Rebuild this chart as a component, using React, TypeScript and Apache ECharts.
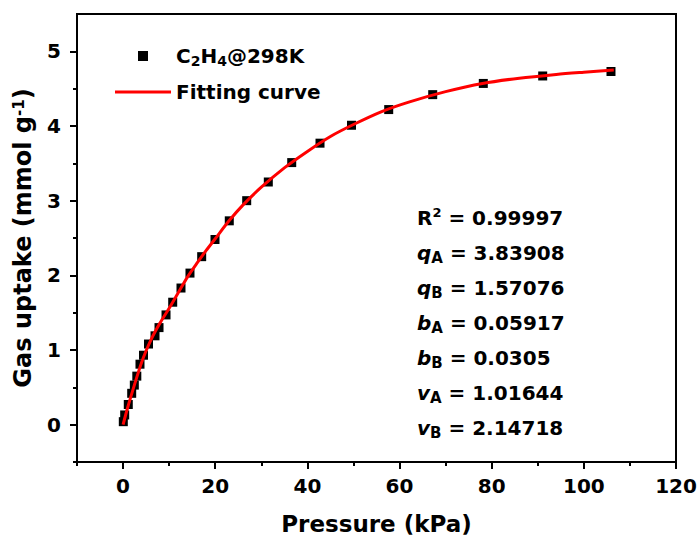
import React, { useEffect, useRef } from 'react';
import * as echarts from 'echarts';

// Measured isotherm points (kPa, mmol/g)
const pressure = [0.05, 0.35, 1.13, 1.87, 2.44, 2.98, 3.67, 4.43, 5.52, 6.93, 7.8, 9.32, 10.77, 12.57, 14.52, 17.06, 19.95, 23.05, 26.83, 31.52, 36.6, 42.74, 49.57, 57.65, 67.2, 78.18, 91.07, 105.89];
const uptake = [0.04, 0.13, 0.27, 0.42, 0.53, 0.65, 0.81, 0.93, 1.08, 1.19, 1.3, 1.47, 1.64, 1.83, 2.03, 2.25, 2.48, 2.73, 3.0, 3.25, 3.51, 3.77, 4.01, 4.22, 4.42, 4.57, 4.67, 4.73];

// Fitting curve
const fitPressure = [0, 1, 2, 3, 4, 5, 6, 7, 8, 10, 12, 14, 16, 18, 20, 23, 26, 30, 35, 40, 45, 50, 56, 62, 70, 78, 86, 94, 100, 106.5];
const fitUptake = [0, 0.23, 0.44, 0.64, 0.83, 0.99, 1.13, 1.25, 1.36, 1.56, 1.77, 1.98, 2.16, 2.33, 2.49, 2.73, 2.94, 3.18, 3.44, 3.66, 3.86, 4.02, 4.19, 4.32, 4.46, 4.57, 4.64, 4.69, 4.72, 4.75];

// Ticks
const xMajor = [0, 20, 40, 60, 80, 100, 120];
const xMinor = [-10, 10, 30, 50, 70, 90, 110];
const yMajor = [0, 1, 2, 3, 4, 5];
const yMinor = [-0.5, 0.5, 1.5, 2.5, 3.5, 4.5];

// Fit parameters annotation
const paramSymbols = ['R', 'q', 'q', 'b', 'b', 'v', 'v'];
const paramScripts = ['2', 'A', 'B', 'A', 'B', 'A', 'B'];
const paramValues = ['0.99997', '3.83908', '1.57076', '0.05917', '0.0305', '1.01644', '2.14718'];

const seriesNames = ['C2H4@298K', 'Fitting curve'];

const FONT = 'DejaVu Sans';

export default function App() {
  const ref = useRef<HTMLDivElement>(null);

  useEffect(() => {
    if (!ref.current) return;
    const chart = echarts.init(ref.current, undefined, { renderer: 'svg' });

    const base = { fontFamily: FONT, fontWeight: 'bold' as const, color: '#000' };
    const annRich = {
      n: { ...base, fontSize: 20, lineHeight: 24 },
      i: { ...base, fontSize: 20, lineHeight: 24, fontStyle: 'italic' as const },
      sub: { ...base, fontSize: 15, lineHeight: 10, verticalAlign: 'bottom' as const },
      sup: { ...base, fontSize: 13, lineHeight: 12, verticalAlign: 'top' as const },
    };

    const graphic = paramValues.map((v, i) => {
      const sym = paramSymbols[i];
      const script = paramScripts[i];
      const isSup = sym === 'R';
      const text = isSup
        ? `{n|${sym}}{sup|${script}}{n| = ${v}}`
        : `{i|${sym}}{sub|${script}}{n| = ${v}}`;
      return {
        type: 'text',
        x: 417,
        y: 218 + 35 * i,
        style: { text, rich: annRich, fill: '#000', verticalAlign: 'middle', align: 'left' },
      };
    });

    const option: any = {
      animation: false,
      backgroundColor: '#fff',
      grid: {
        left: 77, right: 22, top: 14, bottom: 88,
        containLabel: false,
        outerBoundsMode: 'none',
        show: true, borderColor: '#000', borderWidth: 2, backgroundColor: 'transparent',
      },
      legend: {
        orient: 'vertical',
        left: 115,
        top: 46,
        padding: 0,
        itemWidth: 56,
        itemHeight: 10,
        itemGap: 14,
        data: [
          { name: seriesNames[0], icon: 'path://M0,0L10,0L10,10L0,10Z' },
          { name: seriesNames[1], icon: 'path://M0,0L56,0L56,3L0,3Z' },
        ],
        formatter: (name: string) =>
          name === seriesNames[0] ? '{n|C}{sub|2}{n|H}{sub|4}{n|@298K}' : `{n|${name}}`,
        textStyle: {
          ...base,
          fontSize: 20,
          rich: {
            n: { ...base, fontSize: 20, lineHeight: 24 },
            sub: { ...base, fontSize: 14, lineHeight: 8, verticalAlign: 'bottom' },
          },
        },
      },
      xAxis: [
        {
          type: 'value', min: -10, max: 120, position: 'bottom',
          axisLine: { show: true, onZero: false, lineStyle: { color: '#000', width: 2 } },
          axisTick: { show: true, customValues: xMajor, length: 7, inside: false, lineStyle: { color: '#000', width: 2 } },
          axisLabel: { customValues: xMajor, ...base, fontSize: 20, margin: 14 },
          splitLine: { show: false },
          name: 'Pressure (kPa)',
          nameLocation: 'middle',
          nameGap: 62,
          nameMoveOverlap: false,
          nameTextStyle: { ...base, fontSize: 23, verticalAlign: 'middle' },
        },
        {
          type: 'value', min: -10, max: 120, position: 'bottom',
          axisLine: { show: false, onZero: false },
          axisTick: { show: true, customValues: xMinor, length: 4, inside: false, lineStyle: { color: '#000', width: 2 } },
          axisLabel: { show: false },
          splitLine: { show: false },
        },
      ],
      yAxis: [
        {
          type: 'value', min: -0.5, max: 5.5, position: 'left',
          axisLine: { show: true, onZero: false, lineStyle: { color: '#000', width: 2 } },
          axisTick: { show: true, customValues: yMajor, length: 7, inside: false, lineStyle: { color: '#000', width: 2 } },
          axisLabel: { customValues: yMajor, ...base, fontSize: 20, margin: 16 },
          splitLine: { show: false },
          name: 'Gas uptake (mmol g{sup|-1})',
          nameLocation: 'middle',
          nameGap: 42,
          nameTextStyle: {
            ...base,
            fontSize: 24,
            rich: {
              sup: { ...base, fontSize: 15, lineHeight: 12, verticalAlign: 'top' },
            },
          },
        },
        {
          type: 'value', min: -0.5, max: 5.5, position: 'left',
          axisLine: { show: false, onZero: false },
          axisTick: { show: true, customValues: yMinor, length: 4, inside: false, lineStyle: { color: '#000', width: 2 } },
          axisLabel: { show: false },
          splitLine: { show: false },
        },
      ],
      series: [
        {
          name: seriesNames[0],
          type: 'scatter',
          xAxisIndex: 0,
          yAxisIndex: 0,
          symbol: 'rect',
          symbolSize: 9,
          itemStyle: { color: '#000', opacity: 1 },
          data: pressure.map((p, i) => [p, uptake[i]]),
          z: 2,
        },
        {
          name: seriesNames[1],
          type: 'line',
          xAxisIndex: 0,
          yAxisIndex: 0,
          symbol: 'none',
          showSymbol: false,
          smooth: 0.3,
          lineStyle: { color: '#ff0000', width: 3 },
          itemStyle: { color: '#ff0000' },
          data: fitPressure.map((p, i) => [p, fitUptake[i]]),
          z: 3,
        },
      ],
      graphic,
    };

    chart.setOption(option);
    return () => chart.dispose();
  }, []);

  return (
    <div
      ref={ref}
      style={{ position: 'absolute', left: 0, top: 0, width: 698, height: 550, background: '#fff' }}
    />
  );
}
